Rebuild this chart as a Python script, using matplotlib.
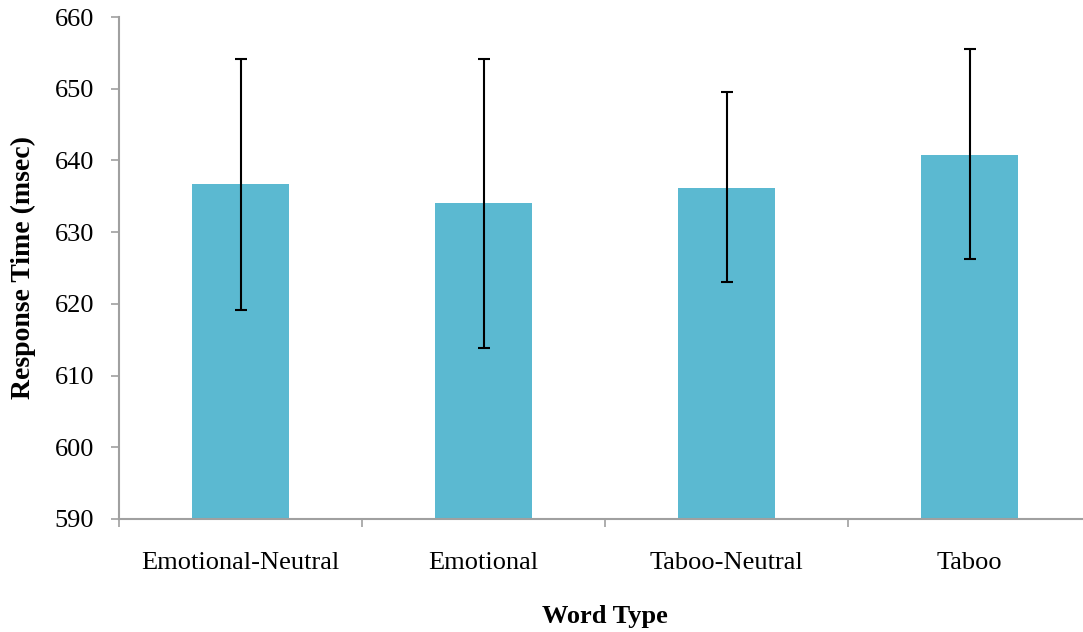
import matplotlib
matplotlib.use("Agg")
import matplotlib.pyplot as plt
import numpy as np

categories = ["Emotional-Neutral", "Emotional", "Taboo-Neutral", "Taboo"]
means = [636.7, 634.0, 636.2, 640.8]
err_upper = [654.1, 654.1, 649.5, 655.5]
err_lower = [619.1, 613.9, 623.0, 626.2]

plt.rcParams['font.family'] = ['Liberation Serif', 'DejaVu Serif']

fig = plt.figure(figsize=(10.83, 6.32), dpi=100)
ax = fig.add_axes([0.1099, 0.1788, 0.8975, 0.7943])

x = np.arange(len(categories))
yerr = [np.array(means) - np.array(err_lower), np.array(err_upper) - np.array(means)]
ax.bar(x, np.array(means) - 590, bottom=590, width=0.40, color='#5BB9D1', zorder=2)
ax.errorbar(x, means, yerr=yerr, fmt='none', ecolor='black', elinewidth=1.5,
            capsize=4.5, capthick=1.5, zorder=3)

ax.set_xlim(-0.5, len(categories) - 0.5)
ax.set_ylim(590, 660)
ax.set_yticks(np.arange(590, 661, 10))
ax.set_xticks(x)
ax.set_xticklabels(categories)
ax.set_xticks(np.arange(-0.5, len(categories), 1.0), minor=True)
ax.tick_params(axis='x', which='major', length=0, pad=24, labelsize=19)
ax.tick_params(axis='x', which='minor', length=6, color='#A0A0A0', width=1.2, direction='out')
ax.tick_params(axis='y', length=6, color='#A0A0A0', width=1.2, direction='out', labelsize=19, pad=12)

for s in ['top', 'right']:
    ax.spines[s].set_visible(False)
for s in ['left', 'bottom']:
    ax.spines[s].set_color('#A0A0A0')
    ax.spines[s].set_linewidth(1.5)

ax.set_xlabel("Word Type", fontsize=19, fontweight='bold', labelpad=22)
ax.set_ylabel("Response Time (msec)", fontsize=20, fontweight='bold', labelpad=13)

fig.savefig("out.png", dpi=100)
